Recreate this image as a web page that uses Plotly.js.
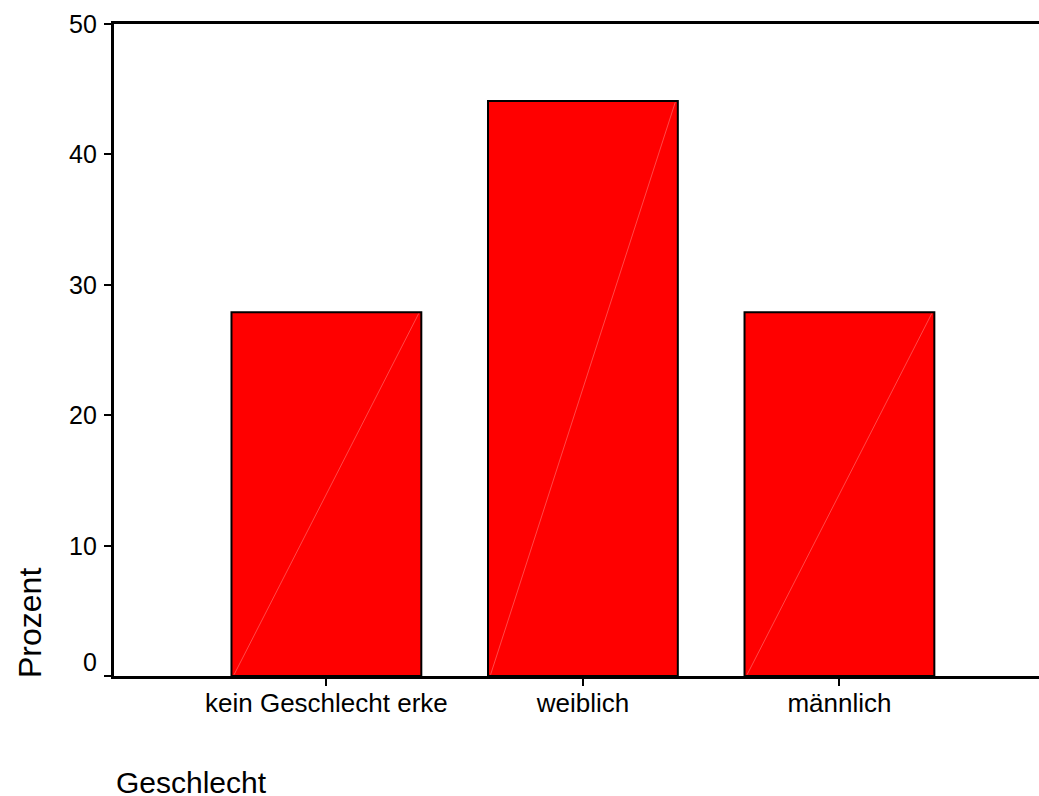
<!DOCTYPE html>
<html>
<head>
<meta charset="utf-8">
<script src="https://cdn.plot.ly/plotly-3.0.1.min.js"></script>
<style>html,body{margin:0;padding:0;background:#fff;}#chart{width:1039px;height:796px;}</style>
</head>
<body>
<div id="chart"></div>
<script>
const categories = ["kein Geschlecht erke", "weiblich", "männlich"];
const percentValues = [27.9, 44.1, 27.9];
const yTickValues = [0, 10, 20, 30, 40, 50];
const yTickLabels = ["0", "10", "20", "30", "40", "50"];
const xTitle = "Geschlecht";
const yTitle = "Prozent";

const FONT = "Liberation Sans, Arial, sans-serif";
const barWidth = 0.74;
const positions = categories.map((c, i) => i);

const traces = [{
  type: "bar",
  x: positions,
  y: percentValues,
  width: barWidth,
  marker: {color: "#ff0000", line: {color: "#000000", width: 2}},
  hoverinfo: "skip",
  showlegend: false
}];

// faint diagonal rendering streak inside each bar (bottom-left to top-right)
positions.forEach((p, i) => {
  traces.push({
    type: "scatter",
    mode: "lines",
    x: [p - barWidth / 2 + 0.01, p + barWidth / 2 - 0.01],
    y: [0.1, percentValues[i] - 0.1],
    line: {color: "rgba(255,120,120,0.6)", width: 1},
    hoverinfo: "skip",
    showlegend: false
  });
});

const annotations = yTickValues.map((v, i) => ({
  xref: "paper", yref: "y",
  x: 0, y: v,
  xanchor: "right", yanchor: "middle",
  xshift: -15,
  yshift: v === 0 ? 14 : 0,
  text: yTickLabels[i],
  showarrow: false,
  font: {family: FONT, size: 25, color: "#000"}
}));

annotations.push({
  xref: "paper", yref: "paper",
  x: 0, y: 0,
  xanchor: "left", yanchor: "middle",
  yshift: -106,
  text: xTitle,
  showarrow: false,
  font: {family: FONT, size: 30, color: "#000"}
});
annotations.push({
  xref: "paper", yref: "paper",
  x: 0, y: 0,
  xanchor: "center", yanchor: "bottom",
  xshift: -84,
  yshift: -4,
  textangle: -90,
  text: yTitle,
  showarrow: false,
  font: {family: FONT, size: 32, color: "#000"}
});

const layout = {
  width: 1039,
  height: 796,
  margin: {l: 114, r: 0, t: 24, b: 120, pad: 0},
  paper_bgcolor: "#ffffff",
  plot_bgcolor: "#ffffff",
  font: {family: FONT, color: "#000"},
  xaxis: {
    range: [-0.828, 2.778],
    tickvals: positions,
    ticktext: categories,
    ticks: "outside",
    ticklen: 7,
    tickwidth: 2,
    tickcolor: "#000",
    ticklabelstandoff: -5,
    showline: true,
    linecolor: "#000",
    linewidth: 3,
    mirror: true,
    showgrid: false,
    zeroline: false,
    tickfont: {family: FONT, size: 26, color: "#000"},
    fixedrange: true
  },
  yaxis: {
    range: [0, 50],
    tickvals: yTickValues,
    showticklabels: false,
    ticks: "outside",
    ticklen: 7,
    tickwidth: 2,
    tickcolor: "#000",
    showline: true,
    linecolor: "#000",
    linewidth: 3,
    showgrid: false,
    zeroline: false,
    fixedrange: true
  },
  annotations: annotations,
  bargap: 0.26
};

Plotly.newPlot("chart", traces, layout, {displayModeBar: false, staticPlot: true});
</script>
</body>
</html>
